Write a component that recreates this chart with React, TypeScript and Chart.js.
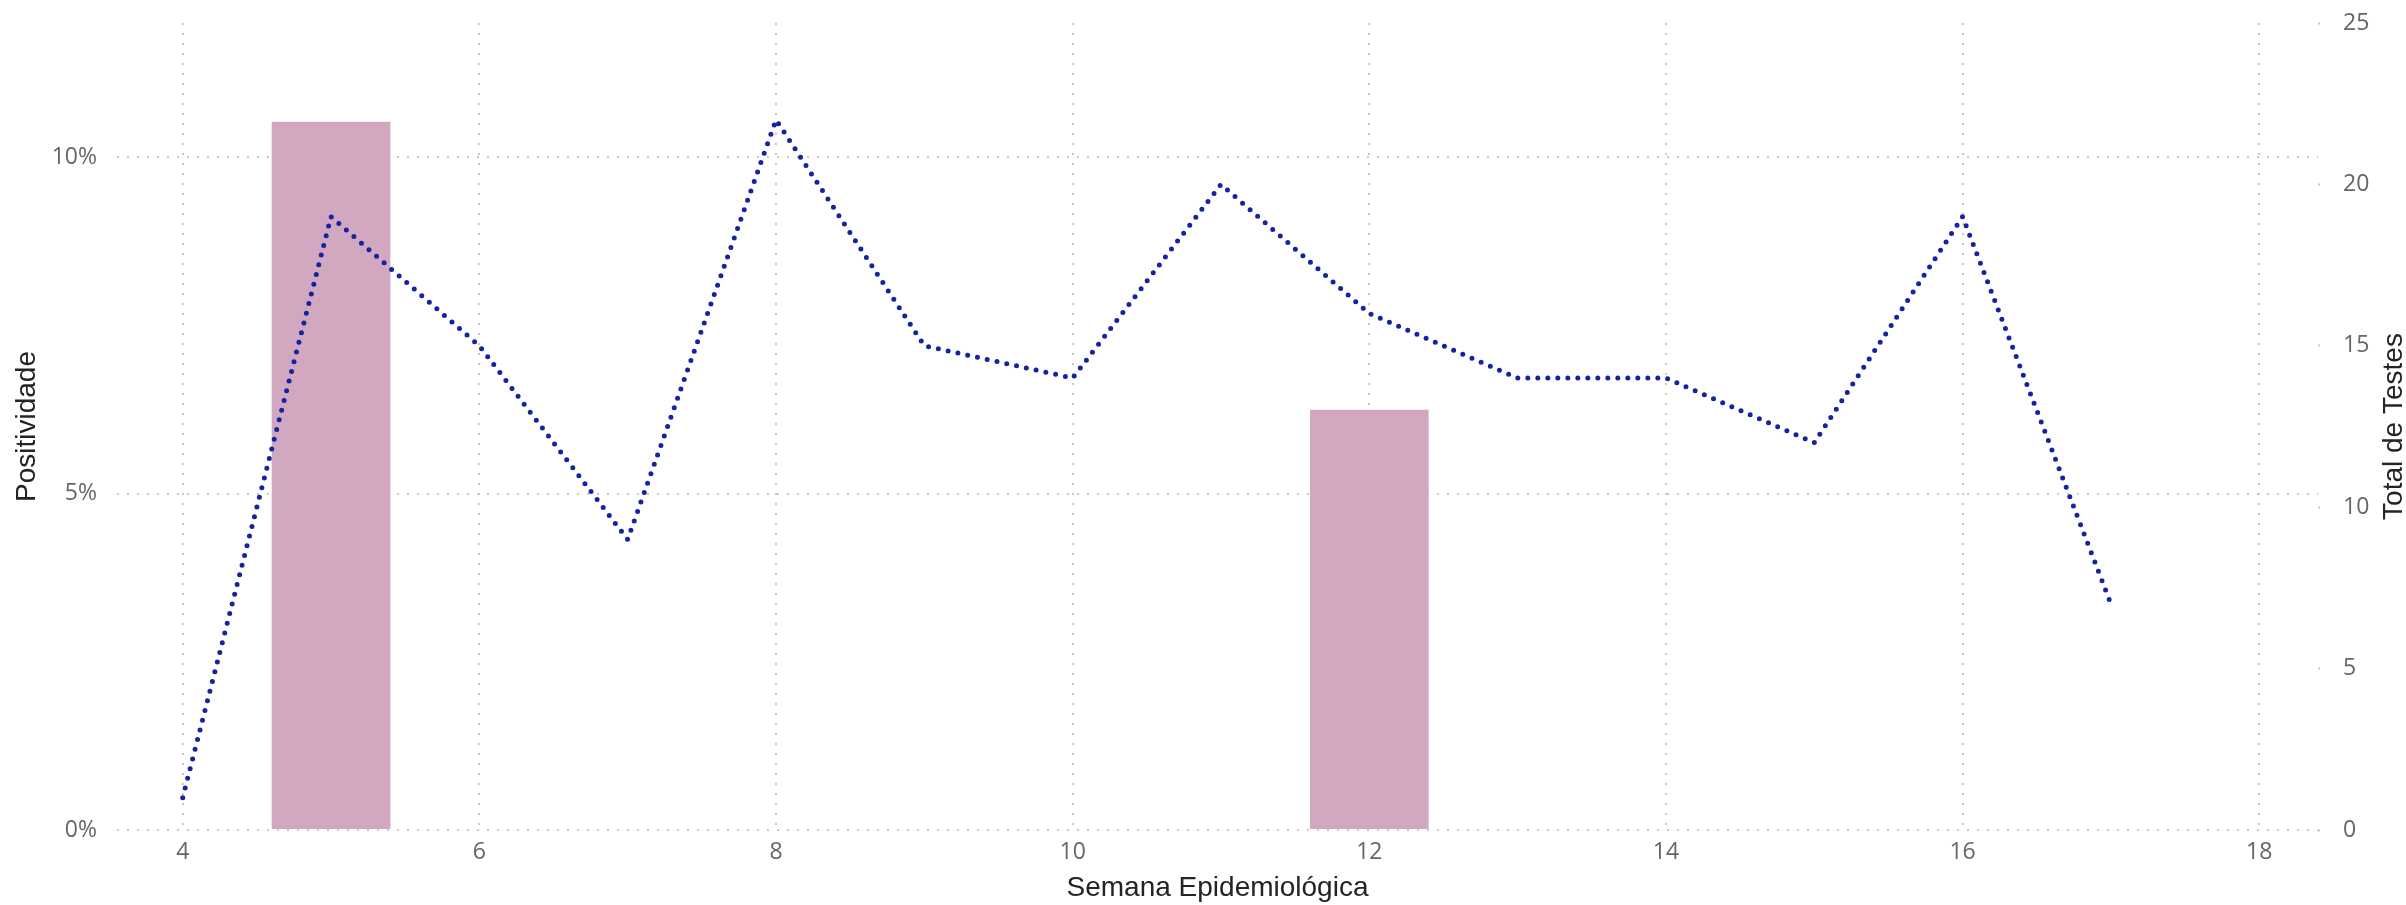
import React, { useEffect, useRef } from 'react';
import { Chart, registerables } from 'chart.js';

Chart.register(...registerables);

// ---- data ----
const weeks = [4, 5, 6, 7, 8, 9, 10, 11, 12, 13, 14, 15, 16, 17];
const totalTests = [1, 19, 15, 9, 22, 15, 14, 20, 16, 14, 14, 12, 19, 7];
const positivity = [0, 0.1053, 0, 0, 0, 0, 0, 0, 0.0625, 0, 0, 0, 0, 0];
const xTicks = [4, 6, 8, 10, 12, 14, 16, 18];
const leftTicks = [0, 0.05, 0.1];
const rightTicks = [0, 5, 10, 15, 20, 25];
const xTitle = 'Semana Epidemiológica';
const leftTitle = 'Positividade';
const rightTitle = 'Total de Testes';

const tickFont = { family: "'Open Sans', 'Noto Sans', sans-serif", size: 23 };
const tickColor = '#666666';
const titleFamily = "'Liberation Sans', Arial, sans-serif";
const titleColor = '#252423';
const gridColor = '#c8c8c8';

const rightTitlePlugin = {
  id: 'rightTitle',
  afterDraw(chart: any) {
    const { ctx, chartArea } = chart;
    const s = chart.scales.y1;
    ctx.save();
    ctx.font = `28px ${titleFamily}`;
    ctx.fillStyle = titleColor;
    ctx.textAlign = 'center';
    ctx.textBaseline = 'middle';
    ctx.translate(s.right - 12, (chartArea.top + chartArea.bottom) / 2);
    ctx.rotate(-Math.PI / 2);
    ctx.fillText(rightTitle, 0, 0);
    ctx.restore();
  },
};

export default function App() {
  const ref = useRef<HTMLCanvasElement | null>(null);

  useEffect(() => {
    document.body.style.margin = '0';
    const canvas = ref.current;
    if (!canvas) return;
    const chart = new Chart(canvas, {
      type: 'bar',
      data: {
        datasets: [
          {
            type: 'line',
            label: rightTitle,
            data: weeks.map((w, i) => ({ x: w, y: totalTests[i] })),
            yAxisID: 'y1',
            borderColor: '#14239f',
            backgroundColor: '#14239f',
            borderWidth: 5,
            borderDash: [0, 10],
            borderCapStyle: 'round',
            pointRadius: 0,
            tension: 0,
            order: 0,
          } as any,
          {
            type: 'bar',
            label: leftTitle,
            data: weeks.map((w, i) => ({ x: w, y: positivity[i] })),
            yAxisID: 'y',
            backgroundColor: '#d1a8c0',
            borderWidth: 0,
            categoryPercentage: 1,
            barPercentage: 0.8,
            order: 1,
          } as any,
        ],
      },
      options: {
        responsive: false,
        animation: false,
        devicePixelRatio: 1,
        layout: { padding: { top: 23, left: 0, right: 0, bottom: 0 } },
        plugins: { legend: { display: false }, tooltip: { enabled: false } },
        scales: {
          x: {
            type: 'linear',
            offset: false,
            min: 3.557,
            max: 18.396,
            afterBuildTicks: (axis: any) => {
              axis.ticks = xTicks.map((v) => ({ value: v }));
            },
            afterFit: (axis: any) => {
              axis.height = 75;
              axis.paddingLeft = 0;
              axis.paddingRight = 0;
            },
            grid: {
              offset: false,
              color: gridColor,
              lineWidth: 2,
              drawTicks: false,
            } as any,
            border: { display: false, dash: [2, 8] },
            ticks: {
              font: tickFont,
              color: tickColor,
              padding: 9,
              maxRotation: 0,
              callback: (v: any) => String(v),
            },
            title: {
              display: true,
              text: xTitle,
              color: titleColor,
              font: { family: titleFamily, size: 28 },
              padding: { top: 0, bottom: 0 },
            },
          },
          y: {
            type: 'linear',
            position: 'left',
            min: 0,
            max: 0.12,
            afterBuildTicks: (axis: any) => {
              axis.ticks = leftTicks.map((v) => ({ value: v }));
            },
            afterFit: (axis: any) => {
              axis.width = 117;
              axis.paddingTop = 0;
              axis.paddingBottom = 0;
            },
            grid: {
              color: gridColor,
              lineWidth: 2,
              drawTicks: false,
            } as any,
            border: { display: false, dash: [2, 8] },
            ticks: {
              font: tickFont,
              color: tickColor,
              padding: 20,
              callback: (v: any) => Math.round(Number(v) * 100) + '%',
            },
            title: {
              display: true,
              text: leftTitle,
              color: titleColor,
              font: { family: titleFamily, size: 28 },
              padding: { top: 10, bottom: 0 },
            },
          },
          y1: {
            type: 'linear',
            position: 'right',
            min: 0,
            max: 25,
            afterBuildTicks: (axis: any) => {
              axis.ticks = rightTicks.map((v) => ({ value: v }));
            },
            afterFit: (axis: any) => {
              axis.width = 88;
              axis.paddingTop = 0;
              axis.paddingBottom = 0;
            },
            grid: {
              drawOnChartArea: false,
              drawTicks: true,
              tickLength: 10,
              tickColor: gridColor,
              tickWidth: 2,
              tickBorderDash: [2, 8],
            } as any,
            border: { display: false },
            ticks: {
              font: tickFont,
              color: tickColor,
              padding: 15,
              callback: (v: any) => String(v),
            },
            title: { display: false },
          },
        },
      },
      plugins: [rightTitlePlugin],
    });
    return () => chart.destroy();
  }, []);

  return (
    <div style={{ width: 2406, height: 905 }}>
      <canvas ref={ref} width={2406} height={905} />
    </div>
  );
}
